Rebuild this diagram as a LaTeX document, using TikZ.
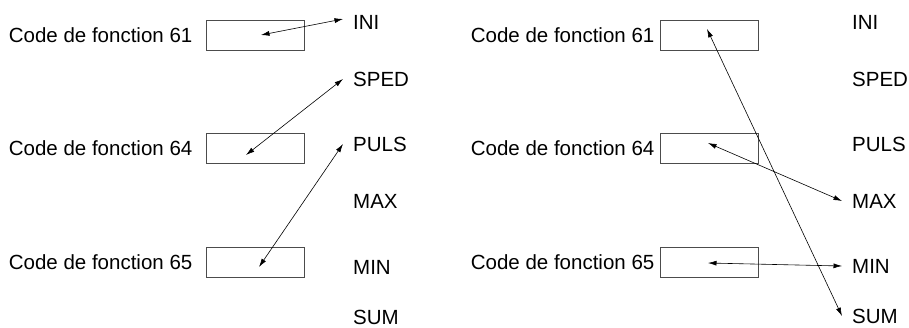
\documentclass[tikz,border=0pt]{standalone}
\usepackage{fontspec}
\setmainfont{Liberation Sans}
\usetikzlibrary{arrows.meta, positioning}

\begin{document}
\begin{tikzpicture}[
  x=1pt, y=-1pt,
  font=\fontsize{20.5pt}{24pt}\selectfont,
  regbox/.style={rectangle, draw=black!70, line width=0.9pt,
                 minimum width=98pt, minimum height=30pt, inner sep=0pt},
  codelabel/.style={inner sep=0pt},
  siglabel/.style={anchor=west, inner xsep=10pt, inner ysep=0pt},
  arrow/.style={{Latex[length=8.5pt,width=5pt]}-{Latex[length=8.5pt,width=5pt]},
                line width=0.6pt}
]
\useasboundingbox (0,0) rectangle (909,327);

% left panel
\node[regbox] (fc61L) at (255,35) {};
\node[regbox] (fc64L) at (255,148) {};
\node[regbox] (fc65L) at (255,262) {};
\node[codelabel, left=13pt of fc61L] (lbl61L) {Code de fonction 61};
\node[codelabel, left=13pt of fc64L] (lbl64L) {Code de fonction 64};
\node[codelabel, left=13pt of fc65L] (lbl65L) {Code de fonction 65};

\node[siglabel] (iniL)  at (343,22)  {INI};
\node[siglabel] (spedL) at (343,79)  {SPED};
\node[siglabel] (pulsL) at (343,144) {PULS};
\node[siglabel] (maxL)  at (343,201) {MAX};
\node[siglabel] (minL)  at (343,267) {MIN};
\node[siglabel] (sumL)  at (343,317) {SUM};

\draw[arrow] ([shift={(6,0)}]fc61L.center) -- ([shift={(0,-3)}]iniL.west);
\draw[arrow] ([shift={(-9,7)}]fc64L.center) -- (spedL.west);
\draw[arrow] ([shift={(4,5)}]fc65L.center) -- (pulsL.west);

% right panel
\node[regbox] (fc61R) at (709,35) {};
\node[regbox] (fc64R) at (709,148) {};
\node[regbox] (fc65R) at (709,262) {};
\node[codelabel, left=5pt of fc61R] (lbl61R) {Code de fonction 61};
\node[codelabel, left=5pt of fc64R] (lbl64R) {Code de fonction 64};
\node[codelabel, left=5pt of fc65R] (lbl65R) {Code de fonction 65};

\node[siglabel] (iniR)  at (842,22)  {INI};
\node[siglabel] (spedR) at (842,79)  {SPED};
\node[siglabel] (pulsR) at (842,144) {PULS};
\node[siglabel] (maxR)  at (842,201) {MAX};
\node[siglabel] (minR)  at (842,266) {MIN};
\node[siglabel] (sumR)  at (842,316) {SUM};

\draw[arrow] ([shift={(-2,-6)}]fc61R.center) -- (sumR.west);
\draw[arrow] ([shift={(-1,-5)}]fc64R.center) -- (maxR.west);
\draw[arrow] ([shift={(-1,1)}]fc65R.center) -- (minR.west);

\end{tikzpicture}
\end{document}
